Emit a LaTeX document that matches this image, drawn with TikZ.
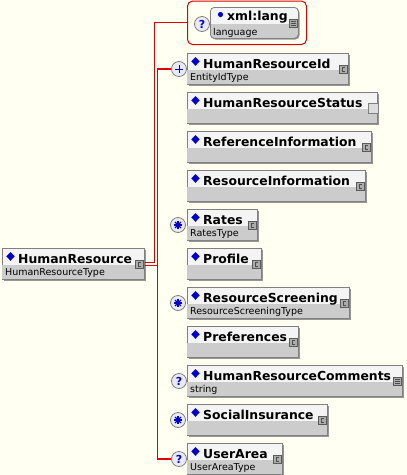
\documentclass[tikz,border=0pt]{standalone}
\usepackage{fontspec}
\setmainfont{DejaVu Sans}
\usetikzlibrary{positioning}

\definecolor{bgcream}{RGB}{255,255,242}
\definecolor{namefill}{RGB}{244,244,244}
\definecolor{typefill}{RGB}{204,204,204}
\definecolor{boxline}{RGB}{128,128,128}
\definecolor{shadowgray}{RGB}{150,150,150}
\definecolor{linkred}{RGB}{220,0,0}
\definecolor{markblue}{RGB}{0,0,200}
\definecolor{occfill}{RGB}{234,234,246}

\tikzset{
  elem/.style={rectangle, draw=boxline, fill=namefill, line width=0.8pt, anchor=north west, inner sep=0pt, minimum height=31pt},
  ename/.style={anchor=base west, inner sep=0pt, font=\fontsize{12.4}{14}\selectfont\bfseries},
  etype/.style={anchor=base west, inner sep=0pt, font=\fontsize{9.5}{11}\selectfont},
  occ/.style={circle, draw=boxline, fill=occfill, line width=0.8pt, inner sep=0pt, minimum size=15pt},
  cxicon/.style={rectangle, draw=boxline!70!black, fill=typefill!85!black, line width=0.5pt, inner sep=0pt, minimum size=8pt},
  sqicon/.style={rectangle, draw=boxline, fill=namefill!90!black, line width=0.6pt, inner sep=0pt, minimum size=10pt},
  attrgroup/.style={rectangle, rounded corners=5pt, draw=linkred, line width=1pt, anchor=north west, inner sep=0pt, minimum width=119pt, minimum height=43.4pt},
  conn/.style={draw=linkred, line width=1.1pt},
}

% element box: id, x, y, width, name, type, icon
\newcommand{\elembox}[7]{%
  \fill[shadowgray] (#2+1.6,#3+1.6) rectangle ++(#4,31);
  \node[elem, minimum width=#4pt] (#1) at (#2,#3) {};
  \fill[typefill] ([xshift=0.4pt,yshift=0.4pt]#1.south west) rectangle ([xshift=-0.4pt,yshift=15pt]#1.south east);
  \fill[markblue] ([xshift=8.5pt,yshift=-4pt]#1.north west) -- ++(4.2pt,-4.4pt) -- ++(-4.2pt,-4.4pt) -- ++(-4.2pt,4.4pt) -- cycle;
  \node[ename] (#1-name) at ([xshift=16pt,yshift=-15pt]#1.north west) {#5};
  \node[etype] (#1-type) at ([xshift=3pt,yshift=-27pt]#1.north west) {#6};
  #7{#1}%
}
\newcommand{\iconcx}[1]{%
  \node[cxicon] (#1-icon) at ([xshift=-5.5pt,yshift=-16pt]#1.north east) {};
  \draw[black!70, line width=0.6pt] ([xshift=1.6pt,yshift=1.8pt]#1-icon.center) -- ++(-3pt,0) -- ++(0,-3.6pt) -- ++(3pt,0);
}
\newcommand{\iconsq}[1]{%
  \node[sqicon] (#1-icon) at ([xshift=-5pt,yshift=-16pt]#1.north east) {};
}
\newcommand{\iconst}[1]{%
  \node[cxicon] (#1-icon) at ([xshift=-5.5pt,yshift=-16pt]#1.north east) {};
  \foreach \dy in {2,0,-2}
    \draw[black!70, line width=0.6pt] ([xshift=-2.6pt,yshift=\dy pt]#1-icon.center) -- ([xshift=2.6pt,yshift=\dy pt]#1-icon.center);
}
% occurrence marks
\newcommand{\occplus}[1]{%
  \draw[markblue, line width=1pt] ([xshift=-4pt]#1.center) -- ([xshift=4pt]#1.center) ([yshift=-4pt]#1.center) -- ([yshift=4pt]#1.center);
}
\newcommand{\occstar}[1]{%
  \foreach \a in {0,45,90,135}
    \draw[markblue, line width=1.1pt] ([shift={(\a:4.2pt)}]#1.center) -- ([shift={(\a+180:4.2pt)}]#1.center);
}
\newcommand{\occquery}[1]{%
  \node[text=markblue, inner sep=0pt, font=\fontsize{11}{11}\selectfont\bfseries] (#1-q) at ([yshift=-0.3pt]#1.center) {?};
}

\begin{document}
\begin{tikzpicture}[x=1pt, y=-1pt]
  \fill[bgcream] (0,0) rectangle (407,475);
  \useasboundingbox (0,0) rectangle (407,475);

  % attribute group
  \node[attrgroup] (attr) at (187,0.6) {};
  \node[occ] (attrOcc) at (202,24) {};
  \occquery{attrOcc}
  \fill[shadowgray, rounded corners=4pt] (211.5,8.5) rectangle (299.5,39.5);
  \begin{scope}
    \clip[rounded corners=4pt] (210,7) rectangle (298,38);
    \fill[namefill] (210,7) rectangle (298,24);
    \fill[typefill] (210,24) rectangle (298,38);
  \end{scope}
  \node[draw=boxline, line width=0.8pt, rounded corners=4pt, anchor=north west, inner sep=0pt, minimum width=88pt, minimum height=31pt] (lang) at (210,7) {};
  \fill[markblue] (220.5,14.5) circle (2.6pt);
  \node[ename] (lang-name) at (227,20) {xml:lang};
  \node[etype] (lang-type) at (213,35) {language};
  \iconst{lang}

  % elements
  \elembox{hr}{2}{248}{142}{HumanResource}{HumanResourceType}{\iconcx}
  \elembox{eId}{187}{53}{161}{HumanResourceId}{EntityIdType}{\iconcx}
  \elembox{eStatus}{187}{92}{190}{HumanResourceStatus}{}{\iconsq}
  \elembox{eRef}{187}{131}{184}{ReferenceInformation}{}{\iconcx}
  \elembox{eRes}{187}{170}{178}{ResourceInformation}{}{\iconcx}
  \elembox{eRates}{187}{209}{70}{Rates}{RatesType}{\iconcx}
  \elembox{eProfile}{187}{248}{74}{Profile}{}{\iconcx}
  \elembox{eScreen}{187}{287}{162}{ResourceScreening}{ResourceScreeningType}{\iconcx}
  \elembox{ePref}{187}{326}{111}{Preferences}{}{\iconcx}
  \elembox{eComm}{187}{365}{215}{HumanResourceComments}{string}{\iconst}
  \elembox{eSocial}{187}{404}{140}{SocialInsurance}{}{\iconcx}
  \elembox{eUser}{187}{443}{95}{UserArea}{UserAreaType}{\iconcx}

  % occurrences
  \node[occ] (oId) at (179,69) {};
  \occplus{oId}
  \node[occ] (oRates) at (178,225) {};
  \occstar{oRates}
  \node[occ] (oScreen) at (178,303) {};
  \occstar{oScreen}
  \node[occ] (oComm) at (179,381) {};
  \occquery{oComm}
  \node[occ] (oSocial) at (178,420) {};
  \occstar{oSocial}
  \node[occ] (oUser) at (179,459) {};
  \occquery{oUser}

  % connectors
  \coordinate (busA) at (154.5,0);
  \coordinate (busB) at (157.5,0);
  \draw[conn] ([yshift=1.5pt]hr.east) -| (busA |- attr.west) -- (attr.west);
  \draw[conn] ([yshift=-1.5pt]hr.east) -| (busB |- oId.west) -- (oId.west);
  \draw[conn] ([yshift=-1.5pt]hr.east) -| (busB |- oUser.west) -- (oUser.west);
\end{tikzpicture}
\end{document}
